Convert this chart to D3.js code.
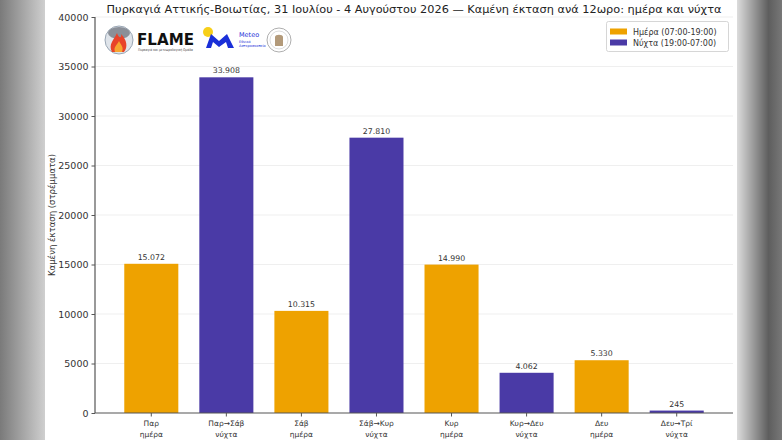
<!DOCTYPE html>
<html>
<head>
<meta charset="utf-8">
<script src="https://cdn.jsdelivr.net/npm/d3@7"></script>
<style>
  html, body { margin: 0; padding: 0; background: #fff; }
  svg { display: block; font-family: "DejaVu Sans", sans-serif; }
</style>
</head>
<body>
<script>
(function () {
    var width = 782;
    var height = 440;

    // data
    var periods = ["Παρ", "Παρ→Σάβ", "Σάβ", "Σάβ→Κυρ", "Κυρ", "Κυρ→Δευ", "Δευ", "Δευ→Τρί"];
    var kinds = ["ημέρα", "νύχτα", "ημέρα", "νύχτα", "ημέρα", "νύχτα", "ημέρα", "νύχτα"];
    var burned = [15072, 33908, 10315, 27810, 14990, 4062, 5330, 245];
    var yTicks = [0, 5000, 10000, 15000, 20000, 25000, 30000, 35000, 40000];
    var legendLabels = ["Ημέρα (07:00-19:00)", "Νύχτα (19:00-07:00)"];

    var dayColor = "#eea200";
    var nightColor = "#4a3aa6";

    var left = 95, right = 733, top = 17, bottom = 413;

    var svg = d3.select("body").append("svg")
        .attr("width", width)
        .attr("height", height);

    var defs = svg.append("defs");
    var gl = defs.append("linearGradient").attr("id", "gl");
    gl.append("stop").attr("offset", "0%").attr("stop-color", "#7a7a7a");
    gl.append("stop").attr("offset", "100%").attr("stop-color", "#cfcfcf");
    var gr = defs.append("linearGradient").attr("id", "gr");
    gr.append("stop").attr("offset", "0%").attr("stop-color", "#dcdcdc");
    gr.append("stop").attr("offset", "70%").attr("stop-color", "#5e5e5e");
    gr.append("stop").attr("offset", "100%").attr("stop-color", "#777");

    svg.append("rect").attr("x", 0).attr("y", 0).attr("width", 45).attr("height", height).attr("fill", "url(#gl)");
    svg.append("rect").attr("x", 737).attr("y", 0).attr("width", 45).attr("height", height).attr("fill", "url(#gr)");

    var x = d3.scaleBand()
        .domain(d3.range(burned.length))
        .range([left, right])
        .paddingInner(0.28)
        .paddingOuter(0.39);

    var y = d3.scaleLinear()
        .domain([0, 40000])
        .range([bottom, top]);

    // grid
    svg.append("g")
        .selectAll("line")
        .data(yTicks.slice(1))
        .join("line")
        .attr("x1", left).attr("x2", right)
        .attr("y1", function (d) { return y(d); })
        .attr("y2", function (d) { return y(d); })
        .attr("stroke", "#ebebeb")
        .attr("stroke-width", 0.8);

    // bars
    svg.append("g")
        .selectAll("rect")
        .data(burned)
        .join("rect")
        .attr("x", function (d, i) { return x(i); })
        .attr("width", x.bandwidth())
        .attr("y", function (d) { return y(d); })
        .attr("height", function (d) { return y(0) - y(d); })
        .attr("fill", function (d, i) { return i % 2 === 0 ? dayColor : nightColor; });

    var fmt = d3.formatLocale({ decimal: ",", thousands: ".", grouping: [3], currency: ["", "€"] }).format(",d");

    svg.append("g")
        .selectAll("text")
        .data(burned)
        .join("text")
        .attr("x", function (d, i) { return x(i) + x.bandwidth() / 2; })
        .attr("y", function (d) { return y(d) - 4; })
        .attr("text-anchor", "middle")
        .attr("font-size", 7.8)
        .attr("fill", "#333")
        .text(function (d) { return fmt(d); });

    // y axis
    var yAxis = svg.append("g")
        .attr("transform", "translate(" + left + ",0)")
        .call(d3.axisLeft(y).tickValues(yTicks).tickFormat(d3.format("d")).tickSize(3.5).tickPadding(3));
    yAxis.selectAll("text").attr("font-size", 9.5).attr("fill", "#333").attr("font-family", "DejaVu Sans");
    yAxis.selectAll("line").attr("stroke", "#555");
    yAxis.select(".domain").attr("stroke", "#555").attr("stroke-width", 1.2).attr("d", "M0," + bottom + "V" + top);

    // x axis
    var xAxis = svg.append("g")
        .attr("transform", "translate(0," + bottom + ")")
        .call(d3.axisBottom(x).tickFormat("").tickSize(3.5));
    xAxis.selectAll("line").attr("stroke", "#555");
    xAxis.select(".domain").attr("stroke", "#555").attr("stroke-width", 1.2).attr("d", "M" + left + ",0H" + right);

    var xl = svg.append("g")
        .selectAll("text")
        .data(periods)
        .join("text")
        .attr("text-anchor", "middle")
        .attr("font-size", 7.5)
        .attr("fill", "#333");
    xl.append("tspan")
        .attr("x", function (d, i) { return x(i) + x.bandwidth() / 2; })
        .attr("y", 426)
        .text(function (d) { return d; });
    xl.append("tspan")
        .attr("x", function (d, i) { return x(i) + x.bandwidth() / 2; })
        .attr("y", 437)
        .text(function (d, i) { return kinds[i]; });

    svg.append("text")
        .attr("transform", "translate(55," + ((top + bottom) / 2) + ") rotate(-90)")
        .attr("text-anchor", "middle")
        .attr("font-size", 8.5)
        .attr("fill", "#333")
        .text("Καμένη έκταση (στρέμματα)");

    svg.append("text")
        .attr("x", 414)
        .attr("y", 13)
        .attr("text-anchor", "middle")
        .attr("font-size", 11.3)
        .attr("fill", "#222")
        .text("Πυρκαγιά Αττικής-Βοιωτίας, 31 Ιουλίου - 4 Αυγούστου 2026 — Καμένη έκταση ανά 12ωρο: ημέρα και νύχτα");

    // legend
    var lg = svg.append("g");
    lg.append("rect").attr("x", 606.5).attr("y", 21.5).attr("width", 122).attr("height", 30)
        .attr("rx", 2).attr("fill", "#fff").attr("stroke", "#ccc").attr("stroke-width", 0.8);
    legendLabels.forEach(function (t, i) {
        lg.append("rect").attr("x", 610).attr("y", 28.5 + i * 11).attr("width", 17).attr("height", 6)
            .attr("fill", i === 0 ? dayColor : nightColor);
        lg.append("text").attr("x", 633).attr("y", 34.5 + i * 11).attr("font-size", 8)
            .attr("fill", "#333").text(t);
    });

    // logos (simplified)
    var logo = svg.append("g");
    logo.append("circle").attr("cx", 119).attr("cy", 40).attr("r", 14).attr("fill", "#dfe4ea").attr("stroke", "#9aa7b5");
    logo.append("ellipse").attr("cx", 119).attr("cy", 33).attr("rx", 11).attr("ry", 6).attr("fill", "#8a8f98");
    logo.append("path").attr("d", "M112,52 C108,44 114,40 117,33 C119,39 122,38 121,34 C127,40 128,47 124,52 Z").attr("fill", "#e8432a");
    logo.append("path").attr("d", "M115,52 C113,47 117,45 119,41 C121,45 124,47 122,52 Z").attr("fill", "#f7a531");
    logo.append("text").attr("x", 137).attr("y", 45).attr("font-size", 15).attr("font-weight", "bold")
        .attr("textLength", 57).attr("lengthAdjust", "spacingAndGlyphs")
        .attr("fill", "#111").text("FLAME");
    logo.append("text").attr("x", 138).attr("y", 51).attr("font-size", 3.6).attr("fill", "#444")
        .attr("textLength", 55).attr("lengthAdjust", "spacingAndGlyphs")
        .text("Πυρκαγιά και μετεωρολογική Ομάδα");
    logo.append("circle").attr("cx", 208).attr("cy", 32).attr("r", 5).attr("fill", "#f7cf1a");
    logo.append("path").attr("d", "M206,48 L211,34 L219,41 L227,34 L234,48 L228,48 L226,42 L219,47 L213,42 L211,48 Z")
        .attr("fill", "#1a2fd8");
    logo.append("text").attr("x", 239).attr("y", 37).attr("font-size", 6.5).attr("fill", "#1a2fd8").text("Meteo");
    logo.append("text").attr("x", 239).attr("y", 43).attr("font-size", 3.5).attr("fill", "#1a2fd8").text("Εθνικό");
    logo.append("text").attr("x", 239).attr("y", 47).attr("font-size", 3.5).attr("fill", "#1a2fd8").text("Αστεροσκοπείο");
    logo.append("circle").attr("cx", 279).attr("cy", 40).attr("r", 12).attr("fill", "#fff").attr("stroke", "#999").attr("stroke-width", 0.8);
    logo.append("circle").attr("cx", 279).attr("cy", 40).attr("r", 9).attr("fill", "none").attr("stroke", "#bbb").attr("stroke-width", 0.5);
    logo.append("path").attr("d", "M275,46 L275,37 C275,34 283,34 283,37 L283,46 Z").attr("fill", "#b39a7a");
})();
</script>
</body>
</html>
